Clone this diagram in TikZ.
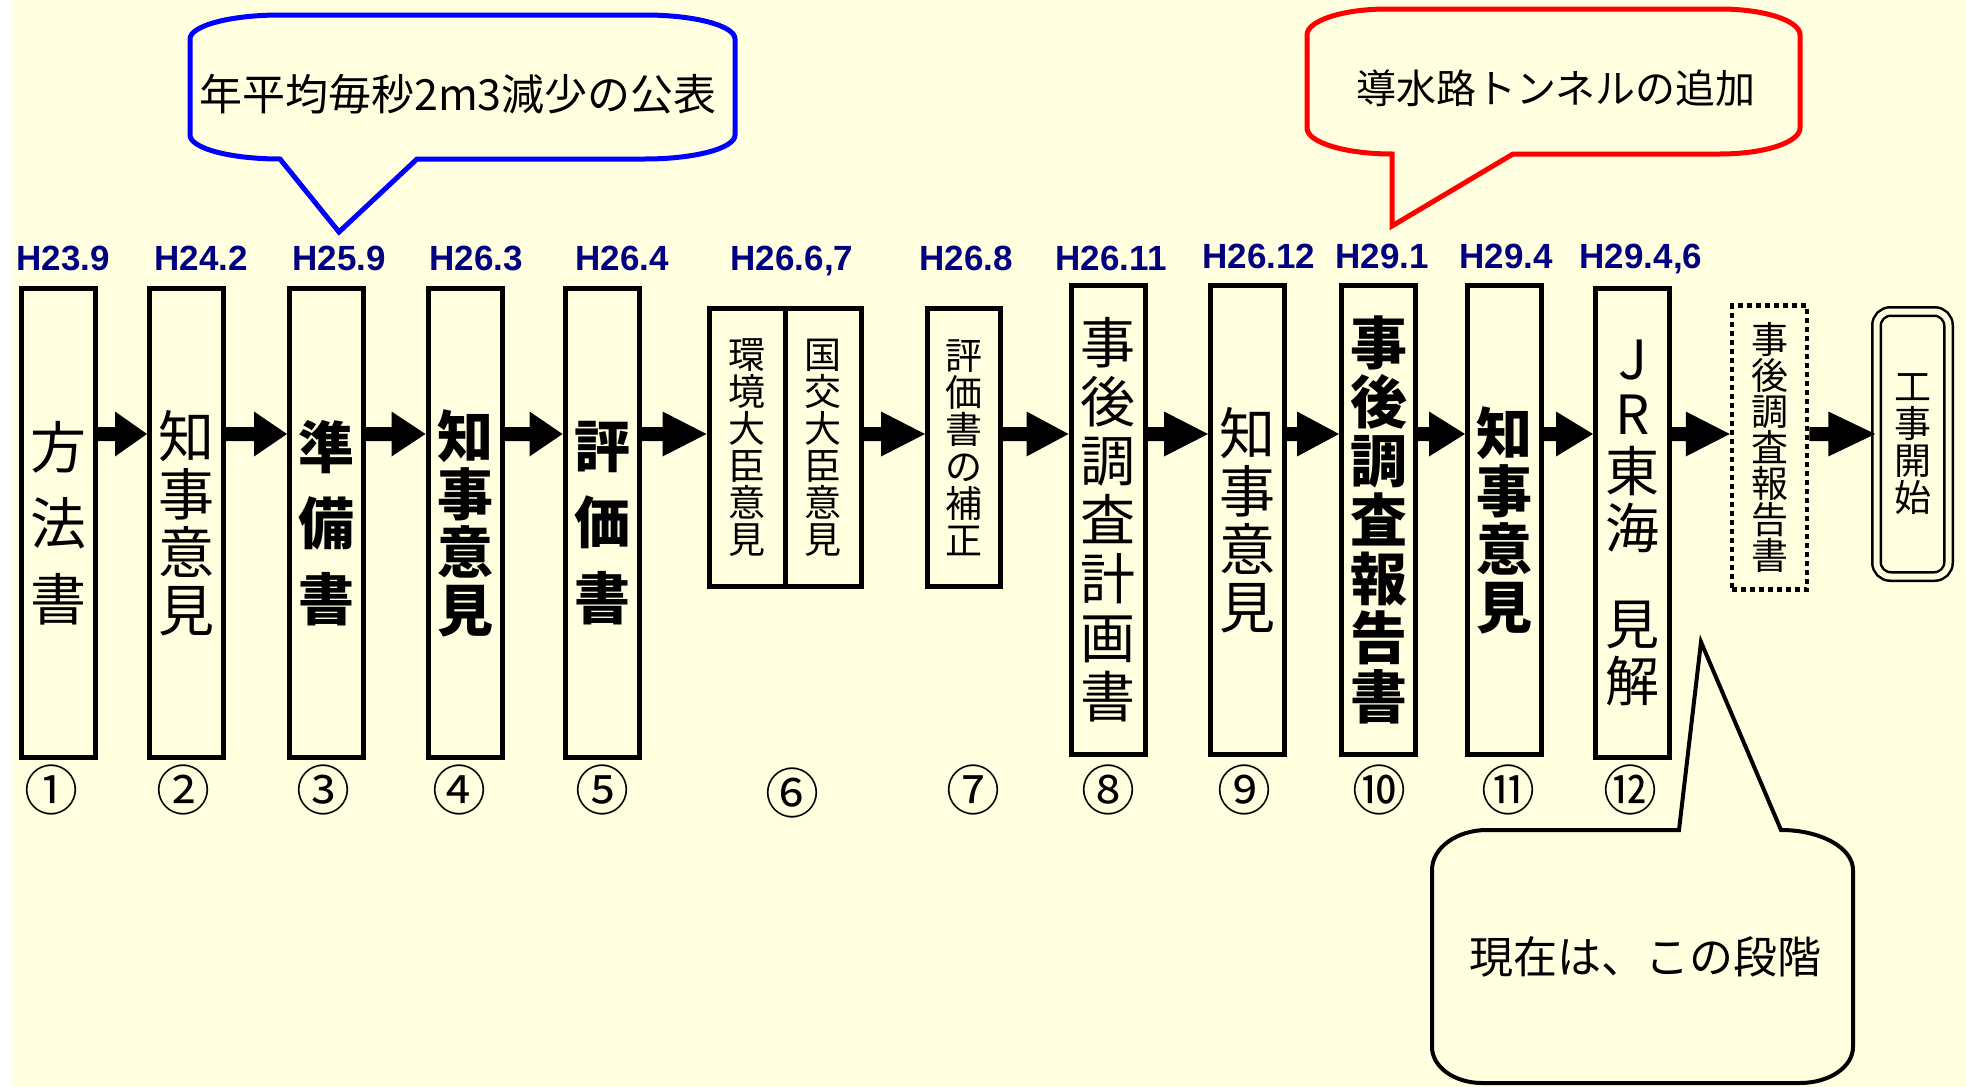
\documentclass[tikz,border=0pt]{standalone}
\usepackage{fontspec}
\setmainfont{Liberation Sans}
\newfontfamily\cjk{Noto Sans CJK JP}
\usetikzlibrary{calc}
\definecolor{bg}{RGB}{255,255,224}
\definecolor{navy}{RGB}{0,0,128}
\definecolor{cblue}{RGB}{0,0,255}
\definecolor{cred}{RGB}{255,0,0}
\newcommand\blockarr[3]{%
  \fill let \p1=(#1.east |- ay), \p2=(#2.west |- ay) in
   (\x1,\y1+7pt) -- (\x2-#3pt,\y1+7pt) -- (\x2-#3pt,\y1+22.5pt) -- (\x2,\y1)
   -- (\x2-#3pt,\y1-22.5pt) -- (\x2-#3pt,\y1-7pt) -- (\x1,\y1-7pt) -- cycle;}
\begin{document}
\begin{tikzpicture}[x=1pt,y=-1pt,
  box/.style={draw, line width=5pt, inner sep=0pt, minimum width=74pt, minimum height=469pt, align=center},
  sbox/.style={box, minimum width=72pt, minimum height=278pt},
  thin/.style={font=\cjk\fontsize{56pt}{76pt}\selectfont},
  thinb/.style={font=\cjk\bfseries\fontsize{56pt}{76pt}\selectfont},
  four/.style={font=\cjk\fontsize{56pt}{58pt}\selectfont},
  fourb/.style={font=\cjk\bfseries\fontsize{56pt}{58pt}\selectfont},
  seven/.style={font=\cjk\fontsize{55pt}{59pt}\selectfont},
  sevenb/.style={font=\cjk\bfseries\fontsize{57pt}{59pt}\selectfont},
  small/.style={font=\cjk\fontsize{37pt}{37pt}\selectfont},
  datelab/.style={anchor=base, text=navy, font=\bfseries\fontsize{35pt}{35pt}\selectfont, inner sep=0pt},
  numlab/.style={font=\cjk\fontsize{54pt}{54pt}\selectfont, inner sep=0pt},
  calltext/.style={font=\cjk\fontsize{#1pt}{#1pt}\selectfont, inner sep=0pt}
]
\useasboundingbox (0,0) rectangle (1966,1087);
\fill[bg] (0,0) rectangle (1966,1087);
\fill[white] (0,0) rectangle (12,1087);
\coordinate (ay) at (0,434);

% boxes
\node[box, thin]  (B1) at (58.5,523) {方\\法\\書};
\node[box, four]  (B2) at (186.5,523) {知\\事\\意\\見};
\node[box, thinb] (B3) at (326.5,523) {準\\備\\書};
\node[box, fourb] (B4) at (465,523) {知\\事\\意\\見};
\node[box, thinb] (B5) at (602,523) {評\\価\\書};
\node[sbox, small, minimum width=76pt] (B6a) at (747,447.5) {環\\境\\大\\臣\\意\\見};
\node[sbox, small, minimum width=76pt] (B6b) at (823,447.5) {国\\交\\大\\臣\\意\\見};
\node[sbox, small, minimum width=73pt] (B7) at (964,447.5) {評\\価\\書\\の\\補\\正};
\node[box, seven]  (B8) at (1108,520) {事\\後\\調\\査\\計\\画\\書};
\node[box, four]   (B9) at (1247.5,520) {知\\事\\意\\見};
\node[box, sevenb] (B10) at (1378.5,520) {事\\後\\調\\査\\報\\告\\書};
\node[box, fourb]  (B11) at (1504.5,520) {知\\事\\意\\見};
\node[box, font=\cjk\fontsize{54pt}{57pt}\selectfont] (B12) at (1632.5,523) {J\\[-2pt]R\\東\\海\\[39pt]見\\解};
\node[draw, line width=4.5pt, dash pattern=on 5pt off 4pt, inner sep=0pt, minimum width=75pt, minimum height=284pt, align=center,
      font=\cjk\fontsize{37pt}{36pt}\selectfont] (B13) at (1769.5,447.5) {事\\後\\調\\査\\報\\告\\書};
\node[draw, line width=2.5pt, double=bg, double distance=6pt, rounded corners=14pt, inner sep=0pt,
      minimum width=72pt, minimum height=265pt, align=center,
      font=\cjk\fontsize{37pt}{37pt}\selectfont] (B14) at (1912.5,444) {工\\事\\開\\始};

% arrows
\blockarr{B1}{B2}{32}
\blockarr{B2}{B3}{33}
\blockarr{B3}{B4}{34}
\blockarr{B4}{B5}{33}
\blockarr{B5}{B6a}{44}
\blockarr{B6b}{B7}{44}
\blockarr{B7}{B8}{42}
\blockarr{B8}{B9}{44}
\blockarr{B9}{B10}{42}
\blockarr{B10}{B11}{36}
\blockarr{B11}{B12}{37}
\blockarr{B12}{B13}{44}
\blockarr{B13}{B14}{47}

% dates
\node[datelab] (d1) at (63,270) {H23.9};
\node[datelab] (d2) at (201,270) {H24.2};
\node[datelab] (d3) at (339,270) {H25.9};
\node[datelab] (d4) at (476,270) {H26.3};
\node[datelab] (d5) at (622,270) {H26.4};
\node[datelab] (d6) at (792,270) {H26.6,7};
\node[datelab] (d7) at (966,270) {H26.8};
\node[datelab] (d8) at (1111,270) {H26.11};
\node[datelab] (d9) at (1259,268) {H26.12};
\node[datelab] (d10) at (1382,268) {H29.1};
\node[datelab] (d11) at (1506,268) {H29.4};
\node[datelab] (d12) at (1641,268) {H29.4,6};

% circled numbers
\node[numlab] (n1) at (51,790) {①};
\node[numlab] (n2) at (183,790) {②};
\node[numlab] (n3) at (323,790) {③};
\node[numlab] (n4) at (459,790) {④};
\node[numlab] (n5) at (602,790) {⑤};
\node[numlab] (n6) at (792,793) {⑥};
\node[numlab] (n7) at (973,790) {⑦};
\node[numlab] (n8) at (1108,790) {⑧};
\node[numlab] (n9) at (1244,790) {⑨};
\node[numlab] (n10) at (1379,790) {⑩};
\node[numlab] (n11) at (1508,790) {⑪};
\node[numlab] (n12) at (1630,790) {⑫};

% callouts
\draw[cblue, line width=5pt, fill=bg, line join=miter]
  (190,39) .. controls (190,25.7) and (230.3,15) .. (280,15) -- (645,15)
  .. controls (694.7,15) and (735,25.7) .. (735,39) -- (735,135)
  .. controls (735,148.3) and (694.7,159) .. (645,159) -- (417,159) -- (339,232) -- (280,159)
  .. controls (230.3,159) and (190,148.3) .. (190,135) -- cycle;
\node[calltext=43] (c1) at (458,94) {年平均毎秒2m3減少の公表};

\draw[cred, line width=5pt, fill=bg, line join=miter]
  (1307,35) .. controls (1307,20.6) and (1342.8,9) .. (1387,9) -- (1720,9)
  .. controls (1764.2,9) and (1800,20.6) .. (1800,35) -- (1800,128)
  .. controls (1800,142.4) and (1764.2,154) .. (1720,154) -- (1513,154) -- (1392,226) -- (1392,154)
  .. controls (1345,154) and (1307,142.4) .. (1307,128) -- cycle;
\node[calltext=40] (c2) at (1556,88) {導水路トンネルの追加};

\draw[black, line width=4pt, fill=bg, line join=miter]
  (1432,870) .. controls (1432,847.9) and (1456.6,830) .. (1487,830) -- (1679,830) -- (1701,642) -- (1781,830)
  .. controls (1820.8,830) and (1853,847.9) .. (1853,870) -- (1853,1047)
  .. controls (1853,1066.9) and (1829.3,1083) .. (1800,1083) -- (1482,1083)
  .. controls (1454.4,1083) and (1432,1066.9) .. (1432,1047) -- cycle;
\node[calltext=44] (c3) at (1645,957) {現在は、この段階};
\end{tikzpicture}
\end{document}
